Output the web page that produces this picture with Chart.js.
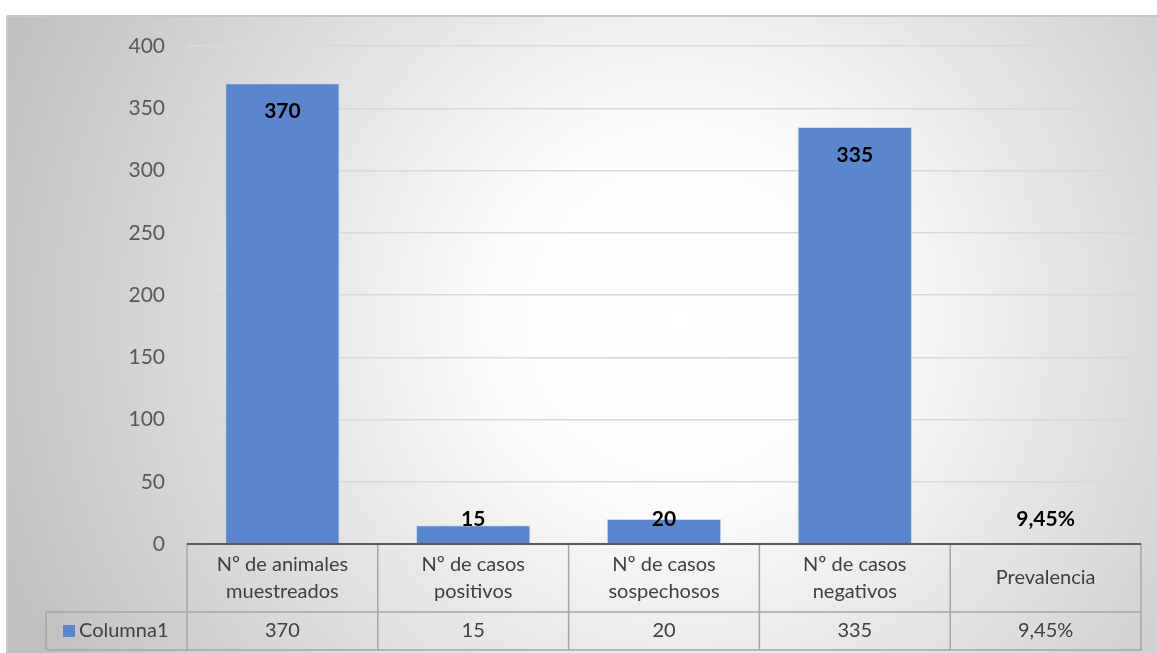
<!DOCTYPE html>
<html>
<head>
<meta charset="utf-8">
<script src="https://cdn.jsdelivr.net/npm/chart.js@4/dist/chart.umd.min.js"></script>
<style>
    html, body { margin: 0; padding: 0; background: #ffffff; }
    #wrap { width: 1157px; height: 653px; position: relative; }
</style>
</head>
<body>
<div id="wrap"><canvas id="grafico"></canvas></div>
<script>
// datos del grafico
const categorias = [
    ['Nº de animales', 'muestreados'],
    ['Nº de casos', 'positivos'],
    ['Nº de casos', 'sospechosos'],
    ['Nº de casos', 'negativos'],
    ['Prevalencia']
];
const valores = [370, 15, 20, 335, 0.0945];
const etiquetas = ['370', '15', '20', '335', '9,45%'];
const nombreSerie = 'Columna1';
const ticksY = [0, 50, 100, 150, 200, 250, 300, 350, 400];

const FUENTE = 'Lato, "Open Sans", sans-serif';
const AZUL = '#5b86cc';

// fondo degradado del area del grafico
const fondo = {
    id: 'fondo',
    beforeDraw(chart) {
        const ctx = chart.ctx;
        const w = chart.width, h = chart.height;
        ctx.save();
        const g = ctx.createRadialGradient(680, 320, 0, 680, 320, 720);
        g.addColorStop(0, '#ffffff');
        g.addColorStop(0.25, '#fcfcfc');
        g.addColorStop(1, '#c0c0c0');
        ctx.fillStyle = g;
        ctx.fillRect(7, 16, w - 7, h - 16);
        ctx.strokeStyle = '#c8c8c8';
        ctx.lineWidth = 2;
        ctx.beginPath();
        ctx.moveTo(7, 16);
        ctx.lineTo(w, 16);
        ctx.moveTo(7, 16);
        ctx.lineTo(7, h);
        ctx.stroke();
        ctx.restore();
    }
};

// etiquetas de datos sobre las barras
const etiquetasDatos = {
    id: 'etiquetasDatos',
    afterDatasetsDraw(chart) {
        const ctx = chart.ctx;
        const meta = chart.getDatasetMeta(0);
        const base = chart.scales.y.getPixelForValue(0);
        ctx.save();
        ctx.font = 'bold 21px ' + FUENTE;
        ctx.fillStyle = '#000000';
        ctx.textAlign = 'center';
        ctx.textBaseline = 'middle';
        meta.data.forEach((bar, i) => {
            const y = Math.min(bar.y + 28, base - 25);
            ctx.fillText(etiquetas[i], bar.x, y);
        });
        ctx.restore();
    }
};

// tabla de datos debajo del eje
const tablaDatos = {
    id: 'tablaDatos',
    afterDraw(chart) {
        const ctx = chart.ctx;
        const area = chart.chartArea;
        const x = chart.scales.x;
        const n = categorias.length;
        const ancho = (area.right - area.left) / n;
        const y0 = area.bottom;
        const y1 = y0 + 68;
        const y2 = y1 + 38;
        const izq = 46;

        ctx.save();
        ctx.strokeStyle = '#a6a6a6';
        ctx.lineWidth = 1.5;
        ctx.beginPath();
        for (let i = 0; i <= n; i++) {
            const xx = area.left + i * ancho;
            ctx.moveTo(xx, y0);
            ctx.lineTo(xx, y2);
        }
        ctx.moveTo(izq, y1);
        ctx.lineTo(area.right, y1);
        ctx.moveTo(izq, y2);
        ctx.lineTo(area.right, y2);
        ctx.moveTo(izq, y1);
        ctx.lineTo(izq, y2);
        ctx.stroke();

        // linea base oscura
        ctx.strokeStyle = '#595959';
        ctx.lineWidth = 2;
        ctx.beginPath();
        ctx.moveTo(area.left, y0);
        ctx.lineTo(area.right, y0);
        ctx.stroke();

        ctx.font = '20px ' + FUENTE;
        ctx.fillStyle = '#404040';
        ctx.textAlign = 'center';
        ctx.textBaseline = 'middle';
        categorias.forEach((lineas, i) => {
            const cx = x.getPixelForValue(i);
            const medio = (y0 + y1) / 2;
            lineas.forEach((t, j) => {
                const ty = medio + (j - (lineas.length - 1) / 2) * 27;
                ctx.fillText(t, cx, ty);
            });
            ctx.fillText(etiquetas[i], cx, (y1 + y2) / 2);
        });

        // leyenda de la serie
        ctx.fillStyle = AZUL;
        ctx.fillRect(63, (y1 + y2) / 2 - 6, 12, 12);
        ctx.fillStyle = '#404040';
        ctx.textAlign = 'left';
        ctx.fillText(nombreSerie, 79, (y1 + y2) / 2);
        ctx.restore();
    }
};

const ctx = document.getElementById('grafico').getContext('2d');
new Chart(ctx, {
    type: 'bar',
    data: {
        labels: categorias,
        datasets: [{
            label: nombreSerie,
            data: valores,
            backgroundColor: AZUL,
            borderColor: 'rgba(200, 215, 240, 0.9)',
            borderWidth: 1,
            barPercentage: 0.6,
            categoryPercentage: 1
        }]
    },
    options: {
        responsive: true,
        maintainAspectRatio: false,
        animation: false,
        devicePixelRatio: 1,
        layout: {
            padding: { top: 46, right: 16, bottom: 109, left: 0 }
        },
        plugins: {
            legend: { display: false },
            tooltip: { enabled: false }
        },
        scales: {
            x: {
                display: false
            },
            y: {
                min: 0,
                max: 400,
                afterFit(scale) { scale.width = 187; },
                afterBuildTicks(scale) {
                    scale.ticks = ticksY.map(v => ({ value: v }));
                },
                border: { display: false },
                grid: {
                    color: '#d9d9d9',
                    lineWidth: 1.5,
                    drawTicks: false
                },
                ticks: {
                    padding: 22,
                    color: '#595959',
                    font: { family: FUENTE, size: 21 }
                }
            }
        }
    },
    plugins: [fondo, etiquetasDatos, tablaDatos]
});
</script>
</body>
</html>
